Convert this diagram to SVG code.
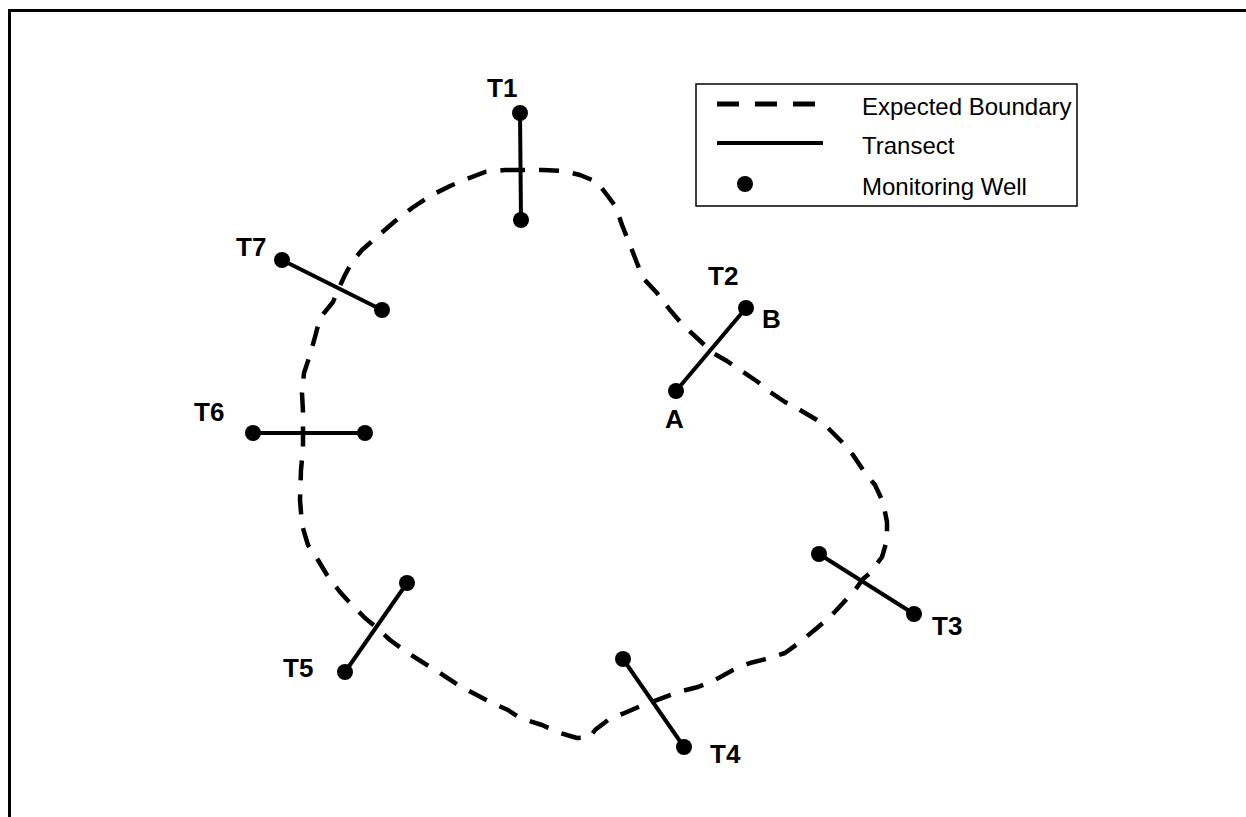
<svg xmlns="http://www.w3.org/2000/svg" width="1246" height="817" viewBox="0 0 1246 817">
  <style>
    .frame { fill: none; stroke: #000; stroke-width: 3; }
    .boundary { fill: none; stroke: #000; stroke-width: 4.5; stroke-dasharray: 20 14; stroke-linejoin: round; }
    .transect { stroke: #000; stroke-width: 4; stroke-linecap: round; }
    .well { fill: #000; }
    .label { font-family: "Liberation Sans", Arial, sans-serif; font-weight: bold; font-size: 26px; fill: #000; }
    .legend-box { fill: #fff; stroke: #000; stroke-width: 1.5; }
    .legend-text { font-family: "Liberation Sans", Arial, sans-serif; font-size: 24px; fill: #000; }
  </style>

  <rect width="1246" height="817" fill="#fff"/>
  <!-- open frame: left and top edges -->
  <path class="frame" d="M9.5 817 V10.5 H1246"/>

  <!-- expected boundary of the plume -->
  <g id="boundary">
    <path class="boundary" d="M505 170 L522 170 L543 170 L563 171 L580 175 L597 182 L607 195 L616 207 L622 225 L630 245 L637 263 L643 278 L657 293 L670 310 L683 325 L697 338 L713 353 L727 361 L740 370 L758 382 L770 392 L785 402 L800 410 L817 420 L828 428 L842 442 L853 455 L863 470 L875 485 L883 502 L887 522 L887 540 L882 557 L870 573 L863 579 L855 590 L843 603 L830 617 L817 628 L800 642 L785 653 L770 658 L750 663 L733 670 L715 680 L698 687 L678 692 L652 702 L643 705 L627 712 L608 720 L595 730 L590 737 L577 738 L560 733 L542 725 L520 718 L508 710 L492 703 L473 693 L458 685 L440 673 L427 665 L408 653 L390 640 L377 628 L365 618 L350 603 L340 592 L327 575 L318 560 L308 545 L302 525 L300 500 L301 470 L303 448 L303 433 L303 412 L302 393 L304 373 L310 355 L315 337 L320 318 L333 302 L338 290 L345 275 L352 262 L362 250 L378 236 L394 222 L412 208 L430 196 L450 186 L467 179 L485 172 Z"/>
  </g>

  <!-- transects with monitoring wells at both ends -->
  <g id="connectors">
    <line class="transect" x1="520" y1="113" x2="521" y2="220"/>
    <line class="transect" x1="746" y1="308" x2="676" y2="391"/>
    <line class="transect" x1="819" y1="554" x2="914" y2="614"/>
    <line class="transect" x1="623" y1="659" x2="684" y2="747"/>
    <line class="transect" x1="407" y1="583" x2="345" y2="672"/>
    <line class="transect" x1="253" y1="433" x2="365" y2="433"/>
    <line class="transect" x1="282" y1="260" x2="382" y2="310"/>
  </g>

  <g id="T1">
    <circle class="well" cx="520" cy="113" r="8"/>
    <circle class="well" cx="521" cy="220" r="8"/>
    <text class="label" x="487" y="97">T1</text>
  </g>
  <g id="T2">
    <circle class="well" cx="746" cy="308" r="8"/>
    <circle class="well" cx="676" cy="391" r="8"/>
    <text class="label" x="708" y="285">T2</text>
    <text class="label" x="762" y="328">B</text>
    <text class="label" x="665" y="428">A</text>
  </g>
  <g id="T3">
    <circle class="well" cx="819" cy="554" r="8"/>
    <circle class="well" cx="914" cy="614" r="8"/>
    <text class="label" x="932" y="635">T3</text>
  </g>
  <g id="T4">
    <circle class="well" cx="623" cy="659" r="8"/>
    <circle class="well" cx="684" cy="747" r="8"/>
    <text class="label" x="710" y="763">T4</text>
  </g>
  <g id="T5">
    <circle class="well" cx="407" cy="583" r="8"/>
    <circle class="well" cx="345" cy="672" r="8"/>
    <text class="label" x="283" y="677">T5</text>
  </g>
  <g id="T6">
    <circle class="well" cx="253" cy="433" r="8"/>
    <circle class="well" cx="365" cy="433" r="8"/>
    <text class="label" x="194" y="421">T6</text>
  </g>
  <g id="T7">
    <circle class="well" cx="282" cy="260" r="8"/>
    <circle class="well" cx="382" cy="310" r="8"/>
    <text class="label" x="236" y="256">T7</text>
  </g>

  <g id="legend">
    <rect class="legend-box" x="696" y="84" width="381" height="122"/>
    <line x1="717" y1="104" x2="815" y2="104" stroke="#000" stroke-width="5" stroke-dasharray="22 16"/>
    <text class="legend-text" x="862" y="115">Expected Boundary</text>
    <line x1="717" y1="143" x2="823" y2="143" stroke="#000" stroke-width="4"/>
    <text class="legend-text" x="862" y="154">Transect</text>
    <circle class="well" cx="745" cy="184" r="8"/>
    <text class="legend-text" x="862" y="195">Monitoring Well</text>
  </g>
</svg>
